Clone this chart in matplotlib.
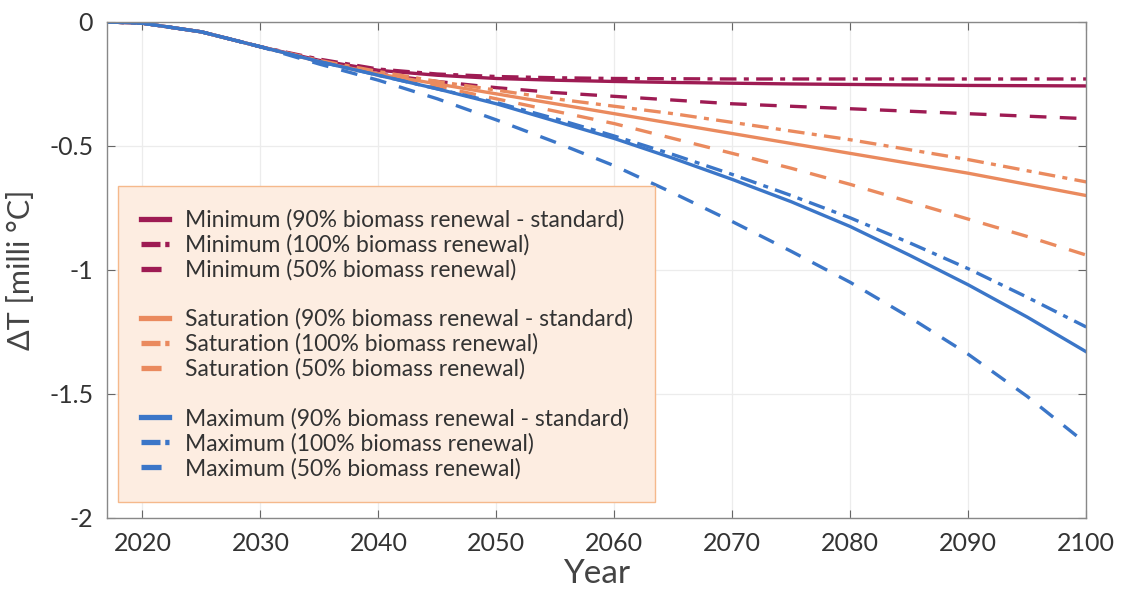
import numpy as np
import matplotlib.pyplot as plt
from matplotlib.lines import Line2D

plt.rcParams['font.family'] = ['Lato', 'DejaVu Sans']

# Years and temperature change [milli degC]
years = [2017, 2020, 2025, 2030, 2035, 2040, 2045, 2050, 2055, 2060,
         2065, 2070, 2075, 2080, 2085, 2090, 2095, 2100]
start = [0.0, -0.005, -0.04, -0.10]

min_std = start + [-0.155, -0.195, -0.215, -0.228, -0.235, -0.240, -0.244,
                   -0.247, -0.250, -0.252, -0.254, -0.256, -0.257, -0.258]
min_100 = start + [-0.150, -0.190, -0.210, -0.220, -0.225, -0.228, -0.229,
                   -0.230, -0.230, -0.230, -0.230, -0.230, -0.230, -0.230]
min_50 = start + [-0.160, -0.210, -0.240, -0.265, -0.285, -0.300, -0.315,
                  -0.330, -0.340, -0.350, -0.360, -0.370, -0.380, -0.390]

sat_std = start + [-0.160, -0.210, -0.250, -0.290, -0.330, -0.370, -0.410,
                   -0.450, -0.490, -0.530, -0.570, -0.610, -0.655, -0.700]
sat_100 = start + [-0.155, -0.200, -0.240, -0.275, -0.310, -0.340, -0.370,
                   -0.405, -0.440, -0.475, -0.515, -0.555, -0.600, -0.645]
sat_50 = start + [-0.160, -0.215, -0.260, -0.310, -0.360, -0.410, -0.470,
                  -0.530, -0.590, -0.655, -0.725, -0.795, -0.865, -0.940]

max_std = start + [-0.160, -0.215, -0.270, -0.330, -0.400, -0.470, -0.550,
                   -0.635, -0.725, -0.825, -0.940, -1.060, -1.190, -1.330]
max_100 = start + [-0.160, -0.215, -0.270, -0.325, -0.390, -0.460, -0.535,
                   -0.615, -0.700, -0.790, -0.890, -0.995, -1.110, -1.230]
max_50 = start + [-0.170, -0.235, -0.310, -0.395, -0.485, -0.580, -0.690,
                  -0.805, -0.925, -1.050, -1.190, -1.340, -1.510, -1.700]

c_min = '#9e1b53'
c_sat = '#ea8a5e'
c_max = '#3b76c8'

# (plot dashes, legend-handle dashes)
styles = {
    'solid': ('-', '-'),
    'dashdot': ((0, (5, 2.2, 1.5, 2.2)), (0, (3.6, 0.9, 0.9, 5))),
    'dashed': ((0, (5, 4)), (0, (3.8, 10))),
}

series = [
    (min_std, c_min, 'solid', 'Minimum (90% biomass renewal - standard)'),
    (min_100, c_min, 'dashdot', 'Minimum (100% biomass renewal)'),
    (min_50, c_min, 'dashed', 'Minimum (50% biomass renewal)'),
    (sat_std, c_sat, 'solid', 'Saturation (90% biomass renewal - standard)'),
    (sat_100, c_sat, 'dashdot', 'Saturation (100% biomass renewal)'),
    (sat_50, c_sat, 'dashed', 'Saturation (50% biomass renewal)'),
    (max_std, c_max, 'solid', 'Maximum (90% biomass renewal - standard)'),
    (max_100, c_max, 'dashdot', 'Maximum (100% biomass renewal)'),
    (max_50, c_max, 'dashed', 'Maximum (50% biomass renewal)'),
]

fig = plt.figure(figsize=(11.21, 5.93), dpi=100)
ax = fig.add_axes([0.0955, 0.1265, 0.8735, 0.8365])

handles = []
labels = []
for i, (vals, col, st, lab) in enumerate(series):
    ls_plot, ls_leg = styles[st]
    ax.plot(years, vals, color=col, linestyle=ls_plot, lw=2.4)
    if i in (3, 6):
        handles.append(Line2D([], [], color='none'))
        labels.append(' ')
    handles.append(Line2D([], [], color=col, linestyle=ls_leg, lw=3.8,
                          dash_capstyle='butt'))
    labels.append(lab)

ax.set_xlim(2017, 2100)
ax.set_ylim(-2, 0)
ax.set_xticks(range(2020, 2101, 10))
ax.set_yticks([0, -0.5, -1, -1.5, -2])
ax.set_yticklabels(['0', '-0.5', '-1', '-1.5', '-2'])
ax.grid(True, color='#ececec', lw=0.9)
ax.tick_params(direction='in', top=True, right=True, length=6, color='#666666',
               labelsize=18, labelcolor='#333333', pad=10)
for s in ax.spines.values():
    s.set_color('#888888')
    s.set_linewidth(1.0)

ax.set_xlabel('Year', fontsize=24, color='#444444', labelpad=3)
ax.set_ylabel('ΔT [milli °C]', fontsize=22, color='#444444', labelpad=10)

leg = ax.legend(handles, labels, loc='lower left',
                bbox_to_anchor=(0.011, 0.032, 0.549, 0.635), mode='expand',
                fontsize=16.5, labelspacing=0.15, handlelength=1.25,
                handletextpad=0.7, borderpad=1.0, borderaxespad=0,
                fancybox=False, framealpha=1)
leg.get_frame().set_facecolor('#fdede1')
leg.get_frame().set_edgecolor('#f5b98c')
leg.get_frame().set_linewidth(1.0)
for t in leg.get_texts():
    t.set_color('#333333')

fig.savefig('out.png', dpi=100)
